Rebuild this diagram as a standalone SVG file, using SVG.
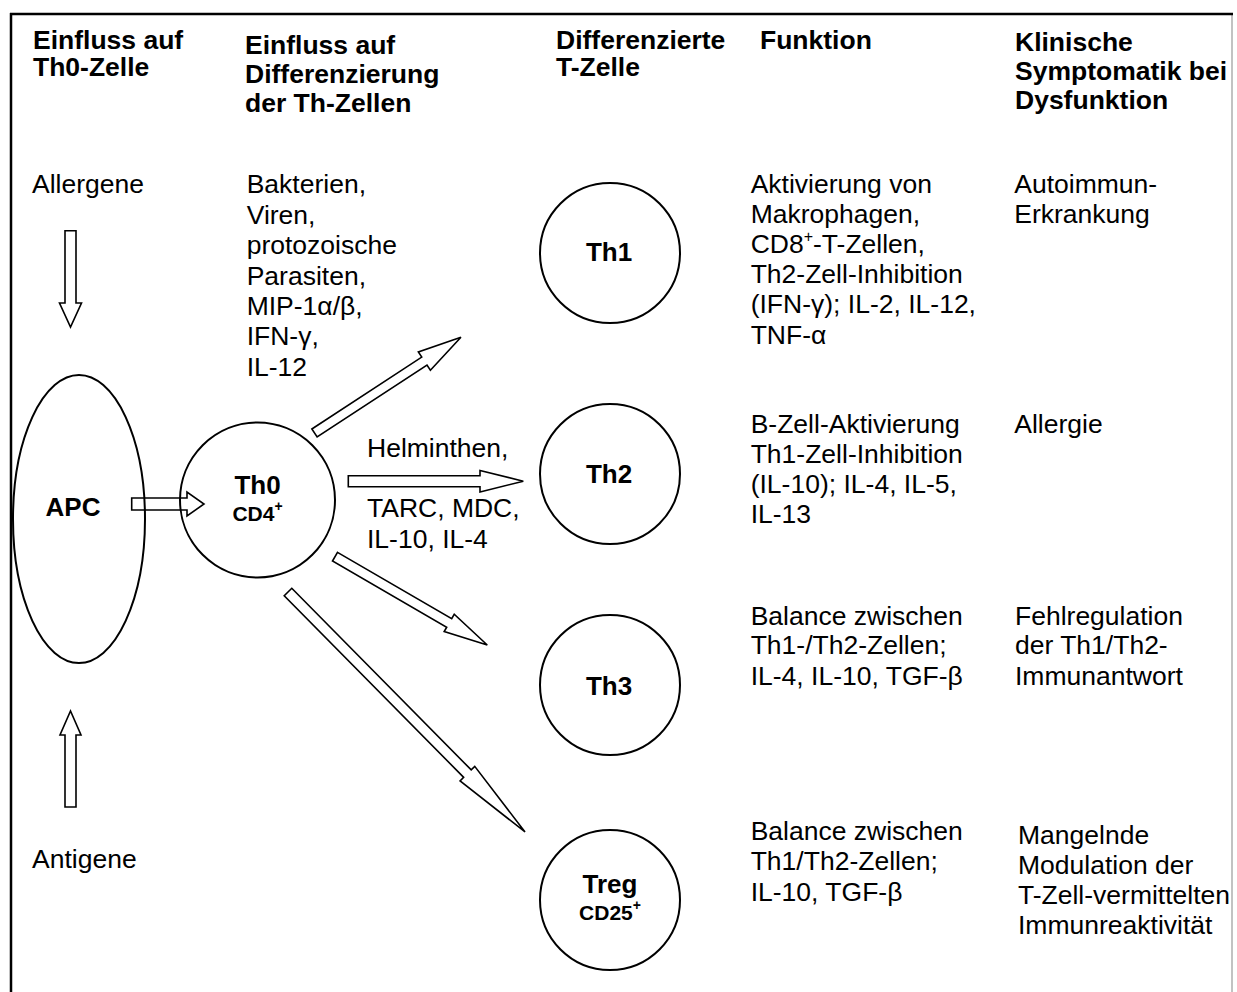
<svg xmlns="http://www.w3.org/2000/svg" width="1237" height="992" viewBox="0 0 1237 992">
<style>
text{font-family:"Liberation Sans",Arial,sans-serif;fill:#000}
.h{font-weight:bold;font-size:26.5px}
.b{font-size:26.5px}
.n{font-weight:bold;font-size:26px;text-anchor:middle}
.s{font-weight:bold;font-size:21px;text-anchor:middle}
.node{fill:#fff;stroke:#000;stroke-width:2}
.arr{fill:#fff;stroke:#000;stroke-width:1.6;stroke-linejoin:miter}
.open{fill:none}
</style>
<rect width="1237" height="992" fill="#fff"/>
<g id="frame">
<line x1="1232" y1="14" x2="1232" y2="992" stroke="#999" stroke-width="1.2"/>
<line x1="10" y1="14" x2="1233" y2="14" stroke="#000" stroke-width="2.5"/>
<line x1="11" y1="13" x2="11" y2="992" stroke="#000" stroke-width="2.5"/>
</g>
<g id="headers">
<text class="h" x="33" y="49">Einfluss auf</text>
<text class="h" x="33" y="76">Th0-Zelle</text>
<text class="h" x="245" y="54">Einfluss auf</text>
<text class="h" x="245" y="83">Differenzierung</text>
<text class="h" x="245" y="112">der Th-Zellen</text>
<text class="h" x="556" y="49">Differenzierte</text>
<text class="h" x="556" y="76">T-Zelle</text>
<text class="h" x="760" y="49">Funktion</text>
<text class="h" x="1015" y="51">Klinische</text>
<text class="h" x="1015" y="80">Symptomatik bei</text>
<text class="h" x="1015" y="109">Dysfunktion</text>
</g>
<g id="APC">
<ellipse class="node" cx="79" cy="519" rx="66" ry="144"/>
<text class="n" x="73" y="516">APC</text>
</g>
<g id="Th0">
<circle class="node" cx="257.5" cy="500" r="77.5"/>
<text class="n" x="257.5" y="494">Th0</text>
<text class="s" x="257.5" y="521">CD4<tspan font-size="14" dy="-10">+</tspan></text>
</g>
<g id="Th1">
<circle class="node" cx="610" cy="253" r="70"/>
<text class="n" x="609" y="261">Th1</text>
</g>
<g id="Th2">
<circle class="node" cx="610" cy="474" r="70"/>
<text class="n" x="609" y="483">Th2</text>
</g>
<g id="Th3">
<circle class="node" cx="610" cy="685" r="70"/>
<text class="n" x="609" y="695">Th3</text>
</g>
<g id="Treg">
<circle class="node" cx="610" cy="900" r="70"/>
<text class="n" x="610" y="893">Treg</text>
<text class="s" x="610" y="920">CD25<tspan font-size="14" dy="-10">+</tspan></text>
</g>
<g id="connectors">
<polygon class="arr" transform="translate(70.5,230.7) rotate(90)" points="0,-5.5 72.3,-5.5 72.3,-11 96.3,0 72.3,11 72.3,5.5 0,5.5"/>
<polygon class="arr" transform="translate(70.5,807) rotate(-90)" points="0,-5.5 72,-5.5 72,-10.5 96,0 72,10.5 72,5.5 0,5.5"/>
<polygon class="arr open" transform="translate(131.7,504)" points="0,-6 55.3,-6 55.3,-12 72.3,0 55.3,12 55.3,6 0,6"/>
<polygon class="arr" transform="translate(348.3,481.2)" points="0,-5.5 131.7,-5.5 131.7,-10.8 175,0 131.7,10.8 131.7,5.5 0,5.5"/>
<polygon class="arr" transform="translate(314.5,433) rotate(-33.2)" points="0,-4.8 131.3,-4.8 131.3,-11 175,0 131.3,11 131.3,4.8 0,4.8"/>
<polygon class="arr" transform="translate(335,556.7) rotate(30.1)" points="0,-5 132,-5 132,-10 176,0 132,10 132,5 0,5"/>
<polygon class="arr" transform="translate(288,592) rotate(45.35)" points="0,-5.3 255.3,-5.3 255.3,-10.3 337.3,0 255.3,10.3 255.3,5.3 0,5.3"/>
</g>
<g id="inputs">
<text class="b" x="32" y="193">Allergene</text>
<text class="b" x="32" y="868">Antigene</text>
<text class="b" x="246.7" y="193.3">Bakterien,</text>
<text class="b" x="246.7" y="223.7">Viren,</text>
<text class="b" x="246.7" y="254">protozoische</text>
<text class="b" x="246.7" y="284.5">Parasiten,</text>
<text class="b" x="246.7" y="315">MIP-1α/β,</text>
<text class="b" x="246.7" y="345.3">IFN-γ,</text>
<text class="b" x="246.7" y="376">IL-12</text>
<text class="b" x="367" y="456.5">Helminthen,</text>
<text class="b" x="367" y="516.7">TARC, MDC,</text>
<text class="b" x="367" y="548.3">IL-10, IL-4</text>
</g>
<g id="functions">
<text class="b" x="750.7" y="193.3">Aktivierung von</text>
<text class="b" x="750.7" y="222.7">Makrophagen,</text>
<text class="b" x="750.7" y="252.7">CD8<tspan font-size="16" dy="-11">+</tspan><tspan dy="11">-T-Zellen,</tspan></text>
<text class="b" x="750.7" y="283.3">Th2-Zell-Inhibition</text>
<text class="b" x="750.7" y="313.3">(IFN-γ); IL-2, IL-12,</text>
<text class="b" x="750.7" y="344">TNF-α</text>
<text class="b" x="750.7" y="433.3">B-Zell-Aktivierung</text>
<text class="b" x="750.7" y="462.7">Th1-Zell-Inhibition</text>
<text class="b" x="750.7" y="492.7">(IL-10); IL-4, IL-5,</text>
<text class="b" x="750.7" y="523.3">IL-13</text>
<text class="b" x="750.7" y="625">Balance zwischen</text>
<text class="b" x="750.7" y="654.3">Th1-/Th2-Zellen;</text>
<text class="b" x="750.7" y="685">IL-4, IL-10, TGF-β</text>
<text class="b" x="750.7" y="840">Balance zwischen</text>
<text class="b" x="750.7" y="870">Th1/Th2-Zellen;</text>
<text class="b" x="750.7" y="900.7">IL-10, TGF-β</text>
</g>
<g id="clinical">
<text class="b" x="1014.3" y="193.3">Autoimmun-</text>
<text class="b" x="1014.3" y="223.3">Erkrankung</text>
<text class="b" x="1014.3" y="433.3">Allergie</text>
<text class="b" x="1015" y="625">Fehlregulation</text>
<text class="b" x="1015" y="654.3">der Th1/Th2-</text>
<text class="b" x="1015" y="685">Immunantwort</text>
<text class="b" x="1018" y="844">Mangelnde</text>
<text class="b" x="1018" y="874">Modulation der</text>
<text class="b" x="1018" y="904">T-Zell-vermittelten</text>
<text class="b" x="1018" y="934">Immunreaktivität</text>
</g>
</svg>
